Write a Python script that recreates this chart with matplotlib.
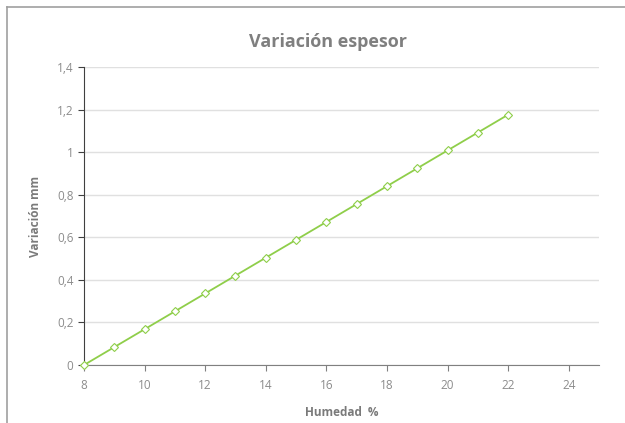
import matplotlib
matplotlib.use("Agg")
import matplotlib.pyplot as plt
from matplotlib.lines import Line2D

# data
humedad = [8, 9, 10, 11, 12, 13, 14, 15, 16, 17, 18, 19, 20, 21, 22]
variacion = [0, 0.084, 0.168, 0.252, 0.336, 0.42, 0.504, 0.588, 0.672,
             0.756, 0.84, 0.924, 1.008, 1.092, 1.176]
x_ticks = [8, 10, 12, 14, 16, 18, 20, 22, 24]
y_ticks = [0, 0.2, 0.4, 0.6, 0.8, 1, 1.2, 1.4]
y_labels = ["0", "0,2", "0,4", "0,6", "0,8", "1", "1,2", "1,4"]

plt.rcParams['font.family'] = ['Open Sans', 'DejaVu Sans']
grey = '#8c8c8c'

fig = plt.figure(figsize=(6.25, 4.23), dpi=100)
ax = fig.add_axes([84 / 625, 1 - 365 / 423, (599 - 84) / 625, (365 - 67) / 423])

ax.plot(humedad, variacion, color='#8fce4a', lw=1.3, marker='D', ms=4.2,
        mfc='white', mec='#8fce4a', mew=0.8, clip_on=False, zorder=3)

ax.set_xlim(8, 25)
ax.set_ylim(0, 1.4)
ax.set_xticks(x_ticks)
ax.set_yticks(y_ticks)
ax.set_yticklabels(y_labels)
ax.grid(axis='y', color='#e0e0e0', lw=1)
ax.set_axisbelow(True)

for s in ['top', 'right']:
    ax.spines[s].set_visible(False)
ax.spines['left'].set_color('#404040')
ax.spines['bottom'].set_color('#808080')
ax.tick_params(axis='both', colors=grey, labelsize=8.5, length=4, direction='out')
ax.tick_params(axis='y', color='#404040')
ax.tick_params(axis='x', color='#808080', pad=6)

ax.set_xlabel('Humedad  %', color='#7a7a7a', fontsize=8.5, fontweight='bold', labelpad=10)
ax.set_ylabel('Variación mm', color='#7a7a7a', fontsize=8.5, fontweight='bold', labelpad=11)
fig.text(0.525, 1 - 42 / 423, 'Variación espesor', ha='center', va='center',
         color='#7f7f7f', fontsize=13, fontweight='bold')

# outer frame (top and left edges)
fig.add_artist(Line2D([7 / 625, 7 / 625], [0, 1 - 7 / 423], color='#a0a0a0', lw=1.2,
                      transform=fig.transFigure))
fig.add_artist(Line2D([7 / 625, 1], [1 - 7 / 423, 1 - 7 / 423], color='#a0a0a0', lw=1.2,
                      transform=fig.transFigure))

fig.savefig('out.png', dpi=100)
